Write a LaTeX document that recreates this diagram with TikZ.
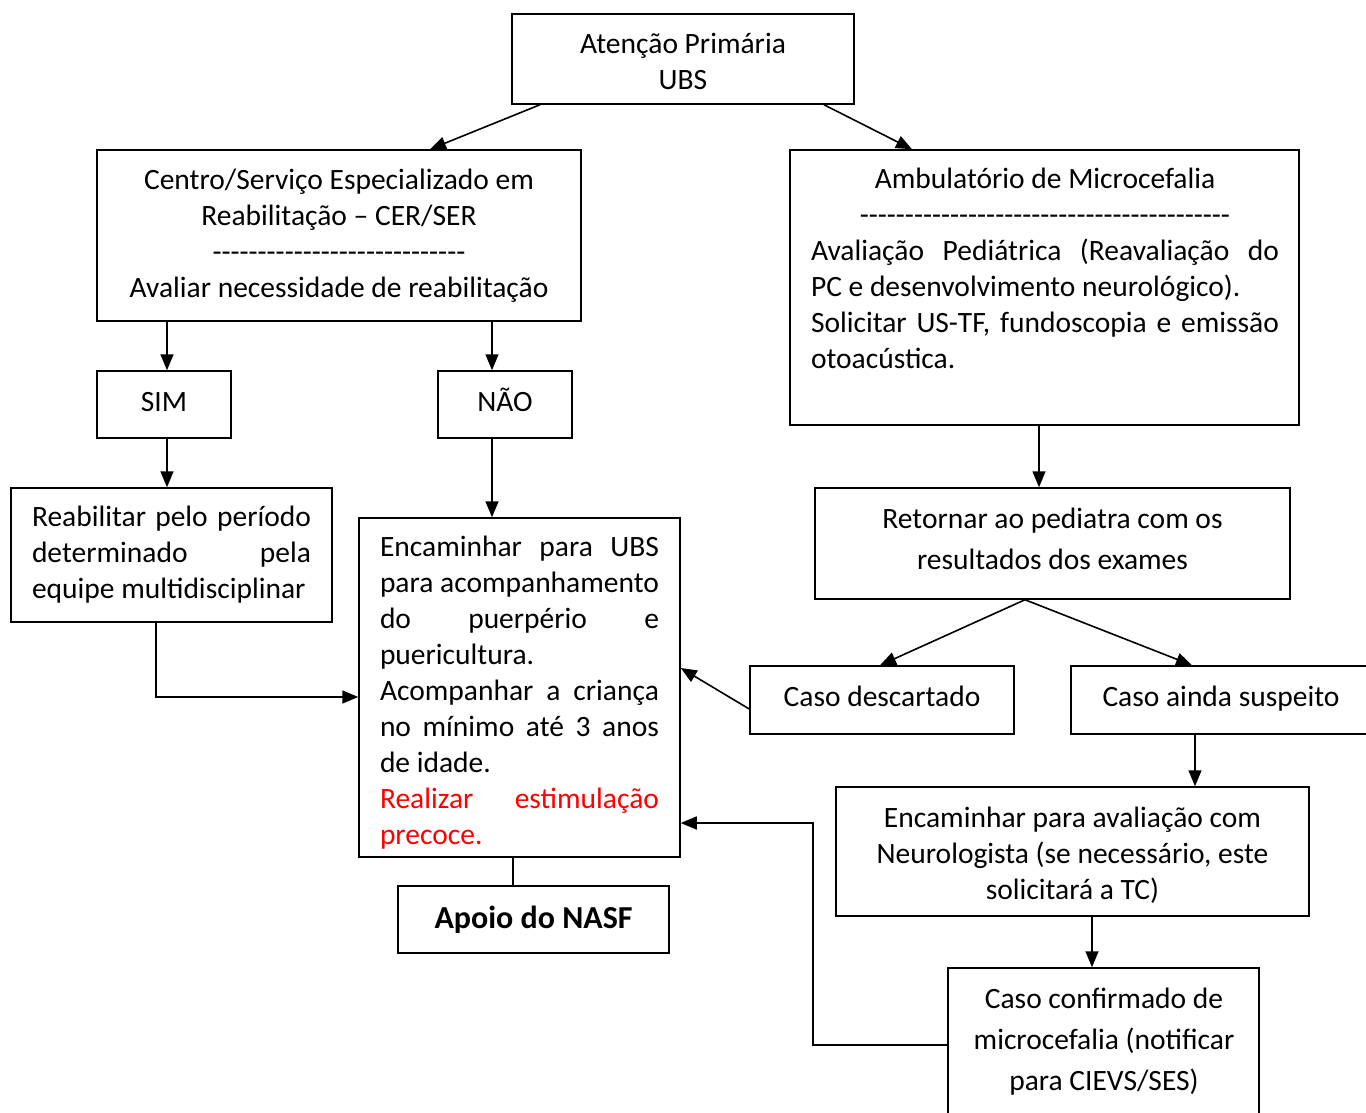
\documentclass[tikz,border=0pt]{standalone}
\usepackage{fontspec}
\setmainfont{Carlito}
\usetikzlibrary{arrows.meta,calc}
\newcommand\fs{\fontsize{29.5}{36}\selectfont}
\newcommand\fsw{\fontsize{29.5}{41}\selectfont}
\newcommand\jl[2]{\makebox[#1][s]{#2}}
\newcommand\dashes[1]{\foreach\i in {1,...,#1}{-\kern0pt}}
\tikzset{
  box/.style={draw, line width=1.5pt, rectangle, inner sep=0pt, font=\fs, align=flush center},
  txt/.style={inner sep=0pt, font=\fs},
  arr/.style={line width=1.6pt, -{Triangle[length=16pt,width=13pt]}},
  ln/.style={line width=1.6pt},
}
\begin{document}
\begin{tikzpicture}[x=1pt,y=-1pt]
\useasboundingbox (0,0) rectangle (1366,1113);
\fill[white] (0,0) rectangle (1366,1113);

\node[box, minimum width=342pt, minimum height=90pt] (ubs) at (683,59) {};
\node[txt, align=flush center] (tubs) at (683,61) {Atenção Primária\\UBS};
\node[box, minimum width=484pt, minimum height=171pt] (cer) at (339,235.5)
  {Centro/Serviço Especializado em\\Reabilitação – CER/SER\\\dashes{28}\\Avaliar necessidade de reabilitação};
\node[box, minimum width=509pt, minimum height=275pt] (amb) at (1044.5,287.5) {};
\node[txt, text width=468pt, align=flush left] (tamb) at (1045,268.5)
  {\makebox[468pt]{Ambulatório de Microcefalia}\\
   \makebox[468pt]{\dashes{41}}\\
   \jl{468pt}{Avaliação Pediátrica (Reavaliação do}\\
   PC e desenvolvimento neurológico).\\
   \jl{468pt}{Solicitar US-TF, fundoscopia e emissão}\\
   otoacústica.};
\node[box, minimum width=134pt, minimum height=67pt, text height=20pt, text depth=6pt] (sim) at (164,404.5) {SIM};
\node[box, minimum width=134pt, minimum height=67pt, text height=20pt, text depth=6pt] (nao) at (505,404.5) {NÃO};
\node[box, minimum width=321pt, minimum height=134pt, text width=279pt, align=flush left] (reab) at (171.5,555)
  {\jl{279pt}{Reabilitar pelo período}\\\jl{279pt}{determinado pela}\\equipe multidisciplinar};
\node[box, minimum width=321pt, minimum height=339pt] (enc) at (519.5,687.5) {};
\node[txt, text width=279pt, align=flush left] (tenc) at (519.5,692.5)
  {\jl{279pt}{Encaminhar para UBS}\\
   \jl{279pt}{para acompanhamento}\\
   \jl{279pt}{do puerpério e}\\
   puericultura.\\
   \jl{279pt}{Acompanhar a criança}\\
   \jl{279pt}{no mínimo até 3 anos}\\
   de idade.\\
   {\color{red}\jl{279pt}{Realizar estimulação}}\\
   {\color{red}precoce.}};
\node[box, minimum width=271pt, minimum height=67pt, font=\fontsize{32}{38}\selectfont\bfseries] (apoio) at (533.5,919.5) {Apoio do NASF};
\node[box, minimum width=475pt, minimum height=111pt] (ret) at (1052.5,543.5) {};
\node[txt, align=flush center, font=\fsw] (tret) at (1052.5,538.5)
  {Retornar ao pediatra com os\\resultados dos exames};
\node[box, minimum width=264pt, minimum height=68pt, text height=21pt, text depth=8pt] (desc) at (882,700) {Caso descartado};
\node[box, minimum width=300pt, minimum height=68pt, text height=21pt, text depth=8pt] (susp) at (1221,700) {Caso ainda suspeito};
\node[box, minimum width=473pt, minimum height=129pt] (neuro) at (1072.5,851.5) {};
\node[txt, align=flush center] (tneuro) at (1072.5,855.5)
  {Encaminhar para avaliação com\\Neurologista (se necessário, este\\solicitará a TC)};
\node[box, minimum width=311pt, minimum height=170pt] (conf) at (1103.5,1053) {};
\node[txt, align=flush center, font=\fsw] (tconf) at (1104,1042)
  {Caso confirmado de\\microcefalia (notificar\\para CIEVS/SES)};
\coordinate (elbow) at (813,823);

\draw[arr] ([xshift=-143pt]ubs.south) -- ([xshift=91pt]cer.north);
\draw[arr] ([xshift=141pt]ubs.south) -- ([xshift=-132.5pt]amb.north);
\draw[arr] ([xshift=-172pt]cer.south) -- ([xshift=3pt]sim.north);
\draw[arr] ([xshift=153pt]cer.south) -- ([xshift=-13pt]nao.north);
\draw[arr] ([xshift=3pt]sim.south) -- ([xshift=-4.5pt]reab.north);
\draw[arr] ([xshift=-13pt]nao.south) -- ([xshift=-27.5pt]enc.north);
\draw[arr] ([xshift=-15.5pt]reab.south) |- ([yshift=-9.5pt]enc.west);
\draw[arr] ([xshift=-5.5pt]amb.south) -- ([xshift=-13.5pt]ret.north);
\draw[arr] ([xshift=-27.5pt]ret.south) -- ([xshift=-2pt]desc.north);
\draw[arr] ([xshift=-27.5pt]ret.south) -- ([xshift=-29pt]susp.north);
\draw[arr] ([yshift=-9pt]desc.west) -- ([yshift=19.5pt]enc.east);
\draw[arr] ([xshift=-26pt]susp.south) -- ([xshift=122.5pt]neuro.north);
\draw[arr] ([xshift=19.5pt]neuro.south) -- ([xshift=-11.5pt]conf.north);
\draw[arr] ([yshift=8pt]conf.west) -| (elbow) -- ([yshift=-135.5pt]enc.east);
\draw[ln] ([xshift=-6.5pt]enc.south) -- ([xshift=-20.5pt]apoio.north);
\end{tikzpicture}
\end{document}
